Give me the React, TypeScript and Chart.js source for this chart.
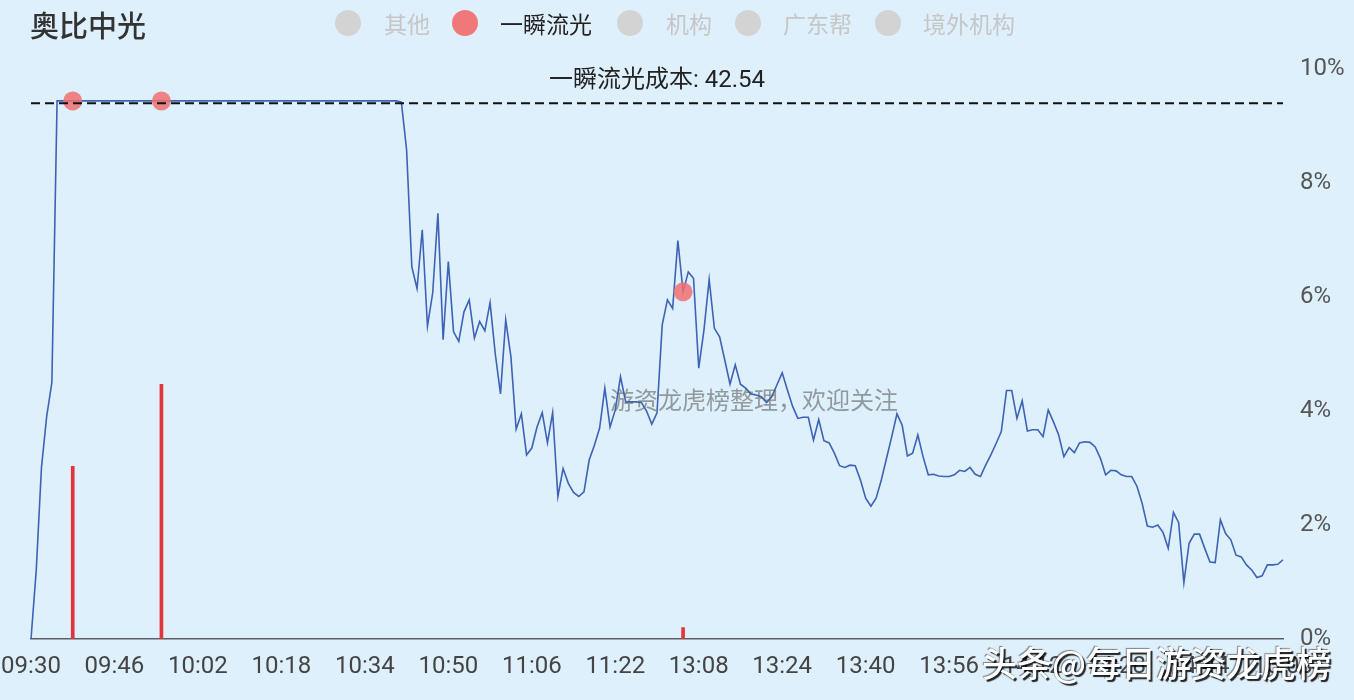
import React, { useEffect, useRef } from 'react';
import { Chart, registerables } from 'chart.js';

Chart.register(...registerables);

// ---- content ----
const stockName = '奥比中光';
const legendNames = ['其他', '一瞬流光', '机构', '广东帮', '境外机构'];
const activeLegend = '一瞬流光';
const costLabel = '一瞬流光成本: 42.54';
const costPct = 9.4;
const centerNote = '游资龙虎榜整理，欢迎关注';
const cornerNote = '头条@每日游资龙虎榜';

// y axis: percent change
const yMin = 0;
const yMax = 10;
const yStep = 2;
// one time label every 16 minutes
const tickEvery = 16;

// trading minutes: 09:30-11:30 then 13:01-15:00
const sessions = [
  { start: '09:30', count: 121 },
  { start: '13:01', count: 120 },
];
const pad2 = (n: number) => String(n).padStart(2, '0');
const times: string[] = [];
sessions.forEach(({ start, count }) => {
  const [h, m] = start.split(':').map(Number);
  for (let k = 0; k < count; k++) {
    const t = h * 60 + m + k;
    times.push(`${pad2(Math.floor(t / 60))}:${pad2(t % 60)}`);
  }
});

// intraday change in percent, one value per minute
const pricePct = [
  0, 1.2, 3.0, 3.9, 4.5,
  9.44, 9.44, 9.44, 9.44, 9.44, 9.44, 9.44, 9.44, 9.44, 9.44, 9.44,
  9.44, 9.44, 9.44, 9.44, 9.44, 9.44, 9.44, 9.44, 9.44, 9.44, 9.44,
  9.44, 9.44, 9.44, 9.44, 9.44, 9.44, 9.44, 9.44, 9.44, 9.44, 9.44,
  9.44, 9.44, 9.44, 9.44, 9.44, 9.44, 9.44, 9.44, 9.44, 9.44, 9.44,
  9.44, 9.44, 9.44, 9.44, 9.44, 9.44, 9.44, 9.44, 9.44, 9.44, 9.44,
  9.44, 9.44, 9.44, 9.44, 9.44, 9.44, 9.44, 9.44, 9.44, 9.44, 9.44,
  9.42, 8.58, 6.53, 6.15, 7.18, 5.49, 6.07, 7.47, 5.25, 6.62,
  5.39, 5.22, 5.74, 5.95, 5.28, 5.57, 5.41, 5.9, 5.0, 4.3,
  5.6, 4.95, 3.68, 3.95, 3.23, 3.35, 3.72, 3.97, 3.44, 3.97,
  2.5, 2.99, 2.73, 2.57, 2.5, 2.58, 3.14, 3.4, 3.7, 4.4,
  3.72, 4.02, 4.6, 4.16, 4.16, 4.16, 4.15, 4.0, 3.77, 3.97,
  5.51, 5.95, 5.8, 6.99, 6.09, 6.44, 6.33, 4.75, 5.42, 6.31,
  5.45, 5.3, 4.89, 4.47, 4.81, 4.47, 4.4, 4.3, 4.28, 4.25,
  4.15, 4.25, 4.46, 4.67, 4.37, 4.08, 3.87, 3.89, 3.89, 3.49,
  3.85, 3.48, 3.44, 3.26, 3.04, 3.01, 3.05, 3.04, 2.79, 2.47,
  2.33, 2.47, 2.79, 3.17, 3.55, 3.95, 3.75, 3.21, 3.26, 3.58,
  3.2, 2.88, 2.89, 2.86, 2.85, 2.85, 2.88, 2.96, 2.94, 3.01,
  2.89, 2.85, 3.05, 3.23, 3.43, 3.64, 4.36, 4.36, 3.87, 4.18,
  3.65, 3.67, 3.67, 3.55, 4.02, 3.81, 3.58, 3.2, 3.36, 3.27,
  3.44, 3.46, 3.45, 3.37, 3.17, 2.88, 2.96, 2.95, 2.88, 2.85,
  2.85, 2.68, 2.38, 1.98, 1.96, 2.0, 1.87, 1.59, 2.22, 2.04,
  0.99, 1.68, 1.84, 1.84, 1.59, 1.35, 1.34, 2.09, 1.85, 1.74,
  1.47, 1.44, 1.3, 1.21, 1.08, 1.11, 1.3, 1.3, 1.31, 1.39,
];

// 一瞬流光 trades: time and bar height
const buyTimes = ['09:38', '09:55', '13:05'];
const buyAmounts = [3.03, 4.47, 0.2];

// ---- colours ----
const pageBg = 'rgb(222, 240, 251)';
const lineColor = '#3d62b6';
const dotColor = 'rgba(240, 112, 112, 0.85)';
const barColor = '#e3343c';
const legendOff = '#d3d3d3';
const legendOn = '#f07878';

const buyIndex = buyTimes.map((t) => times.indexOf(t));
const buyDots = times.map((_, i) => (buyIndex.includes(i) ? pricePct[i] : null));
const buyBars = times.map((_, i) => {
  const k = buyIndex.indexOf(i);
  return k >= 0 ? buyAmounts[k] : null;
});

// dashed cost level with its caption, drawn over the series
const costLinePlugin = {
  id: 'costLine',
  afterDatasetsDraw(chart: any) {
    const { ctx, chartArea, scales } = chart;
    const y = scales.y.getPixelForValue(costPct);
    ctx.save();
    ctx.setLineDash([9, 5]);
    ctx.lineWidth = 2;
    ctx.strokeStyle = '#111';
    ctx.beginPath();
    ctx.moveTo(chartArea.left, y);
    ctx.lineTo(chartArea.right, y);
    ctx.stroke();
    ctx.setLineDash([]);
    ctx.font = '24px Roboto, "Noto Sans CJK SC", sans-serif';
    ctx.fillStyle = '#222';
    ctx.textAlign = 'center';
    ctx.textBaseline = 'middle';
    ctx.fillText(costLabel, (chartArea.left + chartArea.right) / 2, y - 22);
    ctx.restore();
  },
};

const legendCircleX = [348, 465, 630, 748, 888];
const legendTextX = [384, 500, 666, 783, 923];

export default function App() {
  const canvasRef = useRef<HTMLCanvasElement | null>(null);

  useEffect(() => {
    const canvas = canvasRef.current;
    if (!canvas) return;
    const chart = new Chart(canvas, {
      data: {
        labels: times,
        datasets: [
          {
            type: 'line',
            data: buyDots,
            showLine: false,
            pointRadius: 9.5,
            pointBackgroundColor: dotColor,
            pointBorderWidth: 0,
            order: 0,
          },
          {
            type: 'line',
            data: pricePct,
            borderColor: lineColor,
            borderWidth: 1.6,
            pointRadius: 0,
            tension: 0,
            order: 1,
          },
          {
            type: 'bar',
            data: buyBars,
            backgroundColor: barColor,
            barThickness: 3,
            order: 2,
          },
        ],
      } as any,
      options: {
        animation: false,
        responsive: false,
        devicePixelRatio: 1,
        layout: { padding: { left: 31, top: 69, right: 0, bottom: 0 } },
        plugins: { legend: { display: false }, tooltip: { enabled: false } },
        scales: {
          x: {
            type: 'category',
            offset: false,
            grid: { display: false, drawTicks: false },
            border: { display: true, color: '#5a5f66', width: 1.5 },
            ticks: {
              autoSkip: false,
              maxRotation: 0,
              padding: 14,
              color: '#444',
              font: { family: 'Roboto', size: 24 },
              callback: (_v: any, i: number) => (i % tickEvery === 0 ? times[i] : null),
            },
            afterFit: (s: any) => {
              s.height = 61;
              s.paddingLeft = 0;
              s.paddingRight = 0;
            },
          },
          y: {
            position: 'right',
            min: yMin,
            max: yMax,
            grid: { display: false, drawTicks: false },
            border: { display: false },
            ticks: {
              stepSize: yStep,
              padding: 17,
              color: '#555',
              font: { family: 'Roboto', size: 24 },
              callback: (v: any) => `${v}%`,
            },
            afterFit: (s: any) => {
              s.width = 71;
              s.paddingTop = 0;
              s.paddingBottom = 0;
            },
          },
        },
      } as any,
      plugins: [costLinePlugin],
    });
    return () => chart.destroy();
  }, []);

  const cjk = '"Noto Sans CJK SC", sans-serif';

  return (
    <div
      style={{
        position: 'fixed',
        left: 0,
        top: 0,
        width: 1354,
        height: 700,
        background: pageBg,
        overflow: 'hidden',
      }}
    >
      <canvas ref={canvasRef} width={1354} height={700} style={{ position: 'absolute', left: 0, top: 0 }} />
      <div
        style={{
          position: 'absolute',
          left: 30,
          top: 9,
          fontFamily: cjk,
          fontSize: 29,
          fontWeight: 500,
          lineHeight: '30px',
          color: '#333',
        }}
      >
        {stockName}
      </div>
      {legendNames.map((name, i) => {
        const on = name === activeLegend;
        return (
          <React.Fragment key={name}>
            <div
              style={{
                position: 'absolute',
                left: legendCircleX[i] - 13,
                top: 23 - 13,
                width: 26,
                height: 26,
                borderRadius: '50%',
                background: on ? legendOn : legendOff,
              }}
            />
            <div
              style={{
                position: 'absolute',
                left: legendTextX[i],
                top: 11,
                fontFamily: cjk,
                fontSize: 23,
                lineHeight: '24px',
                color: on ? '#222' : '#c6c6c6',
                whiteSpace: 'nowrap',
              }}
            >
              {name}
            </div>
          </React.Fragment>
        );
      })}
      <div
        style={{
          position: 'absolute',
          left: 610,
          top: 386,
          fontFamily: cjk,
          fontSize: 24,
          lineHeight: '26px',
          color: 'rgba(95, 95, 95, 0.6)',
          whiteSpace: 'nowrap',
        }}
      >
        {centerNote}
      </div>
      <div
        style={{
          position: 'absolute',
          left: 982,
          top: 643,
          fontFamily: cjk,
          fontSize: 35,
          fontWeight: 500,
          lineHeight: '38px',
          color: '#fff',
          whiteSpace: 'nowrap',
          textShadow: '2px 2px 1px rgba(0,0,0,0.85), -1px -1px 1px rgba(0,0,0,0.45)',
        }}
      >
        {cornerNote}
      </div>
    </div>
  );
}
